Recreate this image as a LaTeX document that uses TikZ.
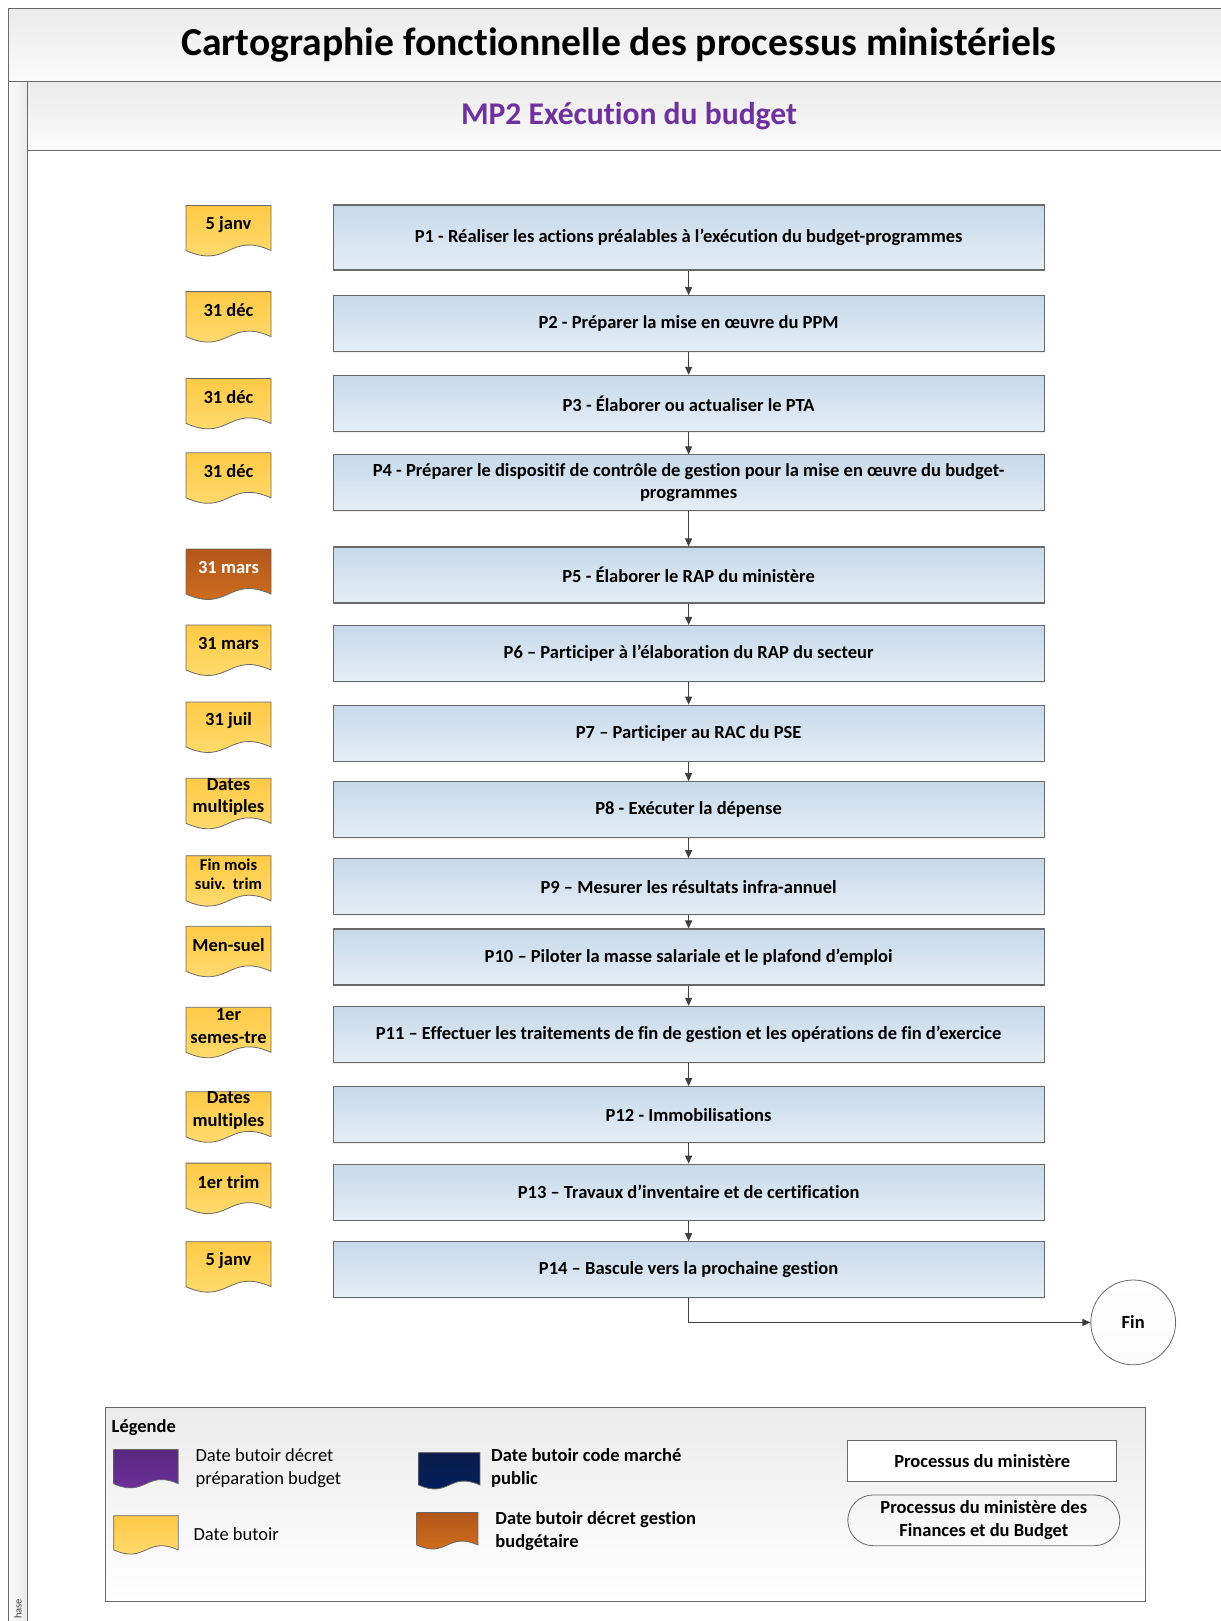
\documentclass[tikz,border=0pt]{standalone}
\usepackage{fontspec}
\setmainfont{Carlito}[Ligatures={TeX,NoCommon}]
\usetikzlibrary{arrows.meta,shadows,shapes.misc}

\definecolor{bleuhaut}{RGB}{199,217,234}
\definecolor{bleubas}{RGB}{229,238,246}
\definecolor{jaunehaut}{RGB}{255,202,70}
\definecolor{jaunebas}{RGB}{255,222,118}
\definecolor{orangehaut}{RGB}{178,86,26}
\definecolor{orangebas}{RGB}{214,114,30}
\definecolor{violethaut}{RGB}{88,40,128}
\definecolor{violetbas}{RGB}{114,48,160}
\definecolor{marinehaut}{RGB}{10,28,74}
\definecolor{marinebas}{RGB}{0,32,96}
\definecolor{violettitre}{RGB}{112,48,160}
\definecolor{grishaut}{RGB}{235,235,235}
\definecolor{grisbas}{RGB}{251,251,251}
\definecolor{trait}{RGB}{105,105,105}
\definecolor{fleche}{RGB}{64,64,64}

\newcommand{\petit}[1]{{\fontsize{16.5}{19.5}\selectfont #1}}

\tikzset{
	cadre/.style={draw=trait,line width=0.8pt},
	processus/.style={draw=trait,line width=1.1pt,top color=bleuhaut,bottom color=bleubas,minimum width=711pt,minimum height=56pt,text width=690pt,align=flush center,inner sep=2pt,font=\fontsize{18.5}{21.7}\selectfont\bfseries,drop shadow={opacity=0.12,shadow xshift=1.2pt,shadow yshift=-1.2pt}},
	echeance/.style={align=center,inner sep=0pt,font=\fontsize{18.5}{22.5}\selectfont\bfseries},
	legende/.style={anchor=west,align=left,inner sep=0pt,font=\fontsize{18.5}{22.5}\selectfont},
	legendegras/.style={legende,font=\fontsize{18.5}{22.5}\selectfont\bfseries},
	lien/.style={draw=fleche,line width=1pt,-{Triangle[length=8pt,width=7pt]}},
	pics/drapeau/.style args={#1/#2}{code={%
		\shadedraw[top color=#1,bottom color=#2,draw=trait,line width=0.8pt] (0,0) -- (85,0) -- (85,45) .. controls (42.5,26) and (42.5,64) .. (0,45) -- cycle;}},
}

\begin{document}
\begin{tikzpicture}[x=1pt,y=-1pt]
	\useasboundingbox (0,0) rectangle (1220,1621);
	\fill[white] (0,0) rectangle (1220,1621);
	% en-tete
	\shadedraw[top color=grishaut,bottom color=grisbas,cadre] (8.3,8.3) rectangle (1232,81.7) ;%titre
	\shadedraw[left color=grisbas,right color=grishaut,cadre] (8.3,81.7) rectangle (26.9,1640) ;%bande phase
	\shadedraw[top color=grishaut,bottom color=grisbas,cadre] (26.9,81.7) rectangle (1232,150) ;%sous-titre
	\node[font=\fontsize{39.6}{46}\selectfont\bfseries] (titre) at (619,44.5) {Cartographie fonctionnelle des processus ministériels};
	\node[font=\fontsize{31.6}{36}\selectfont\bfseries,text=violettitre] (soustitre) at (629,116) {MP2 Exécution du budget};
	\node[rotate=90,anchor=west,inner sep=0pt,font=\fontsize{10.5}{12}\selectfont,text=fleche] (phase) at (18,1619) {hase};
	% processus
	\node[processus,minimum height=65pt] (p1) at (688.6,237.5) {P1 - Réaliser les actions préalables à l’exécution du budget-programmes};
	\foreach \Num/\Haut/\Texte in {2/323.7/{P2 - Préparer la mise en œuvre du PPM},3/403.3/{P3 - Élaborer ou actualiser le PTA},4/482.9/{P4 - Préparer le dispositif de contrôle de gestion pour la mise en œuvre du budget-\\programmes},5/575/{P5 - Élaborer le RAP du ministère},6/653.5/{P6 – Participer à l’élaboration du RAP du secteur},7/733.1/{P7 – Participer au RAC du PSE},8/809.7/{P8 - Exécuter la dépense},9/886.7/{P9 – Mesurer les résultats infra-annuel},10/957/{P10 – Piloter la masse salariale et le plafond d’emploi},11/1034.3/{P11 – Effectuer les traitements de fin de gestion et les opérations de fin d’exercice},12/1114.6/{P12 - Immobilisations},13/1192.2/{P13 – Travaux d’inventaire et de certification},14/1269.7/{P14 – Bascule vers la prochaine gestion}}
		\node[processus] (p\Num) at (688.6,\Haut) {\Texte};
	\node[circle,cadre,top color=white,bottom color=grisbas,minimum size=84.8pt,font=\fontsize{18.5}{22}\selectfont\bfseries] (fin) at (1133.2,1322.4) {Fin};
	\foreach \Num [evaluate=\Num as \Suiv using int(\Num+1)] in {1,...,13}
		\draw[lien] (p\Num) -- (p\Suiv);
	\draw[lien] (p14) |- (fin);
	% echeances
	\foreach \Num/\Sommet/\Couleur/\Encre/\Date in {1/205.5/jaune/black/{5 janv},2/291.6/jaune/black/{31 déc},3/378.4/jaune/black/{31 déc},4/452.8/jaune/black/{31 déc},5/549/orange/white/{31 mars},6/625/jaune/black/{31 mars},7/702/jaune/black/{31 juil},8/778.3/jaune/black/{Dates\\multiples},9/855.7/jaune/black/{\petit{Fin mois}\\[-3pt]\petit{suiv.~~trim}},10/926.3/jaune/black/{Men-suel},11/1007.3/jaune/black/{1er\\semes-tre},12/1091.8/jaune/black/{Dates\\multiples},13/1163.1/jaune/black/{1er trim},14/1241.7/jaune/black/{5 janv}}{
		\pic at (186,\Sommet) {drapeau={\Couleur haut/\Couleur bas}};
		\node[echeance,text=\Encre] (t\Num) at (228.5,\Sommet+18.6) {\Date};
	}
	% legende
	\shadedraw[top color=grishaut,bottom color=white,cadre] (105.5,1407) rectangle (1145.6,1601.5) ;%cadre
	\node[legendegras] (titrelegende) at (111.5,1428) {Légende};
	\pic[shift={(113.7,1449.5)},scale=0.76] {drapeau={violethaut/violetbas}};
	\pic[shift={(113.7,1515.7)},scale=0.76] {drapeau={jaunehaut/jaunebas}};
	\pic[shift={(418.7,1452.6)},scale=0.72] {drapeau={marinehaut/marinebas}};
	\pic[shift={(416.7,1512.6)},scale=0.72] {drapeau={orangehaut/orangebas}};
	\node[legende] (lviolet) at (195.4,1468) {Date butoir décret\\préparation budget};
	\node[legende] (ljaune) at (193.3,1534) {Date butoir};
	\node[legendegras] (lmarine) at (491,1468) {Date butoir code marché\\public};
	\node[legendegras] (lorange) at (495.2,1531.3) {Date butoir décret gestion\\budgétaire};
	\node[cadre,fill=white,minimum width=269pt,minimum height=41pt,font=\fontsize{18.5}{22}\selectfont\bfseries] (lministere) at (982.2,1461) {Processus du ministère};
	\node[rounded rectangle,cadre,minimum width=274pt,minimum height=50.7pt,align=center,inner sep=1pt,font=\fontsize{18.5}{22.5}\selectfont\bfseries] (lfinances) at (983.8,1520.3) {Processus du ministère des\\Finances et du Budget};
\end{tikzpicture}
\end{document}
